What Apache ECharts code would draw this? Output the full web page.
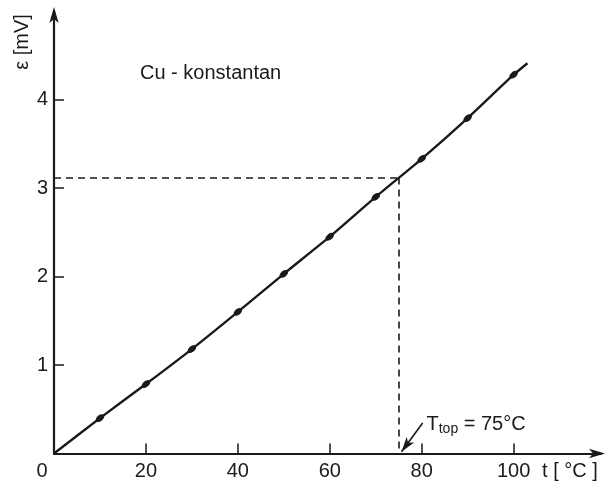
<!DOCTYPE html>
<html>
<head>
<meta charset="utf-8">
<script src="https://cdn.jsdelivr.net/npm/echarts@6/dist/echarts.min.js"></script>
<style>
  html, body { margin: 0; padding: 0; background: #fff; }
  #chart { width: 615px; height: 494px; }
</style>
</head>
<body>
<div id="chart"></div>
<script>
// thermoelektrische Spannung Cu-Konstantan
var temps = [0, 10, 20, 30, 40, 50, 60, 70, 80, 90, 100, 103];
var emf = [0, 0.40, 0.785, 1.18, 1.60, 2.03, 2.45, 2.90, 3.33, 3.79, 4.28, 4.41];
var xTicks = [0, 20, 40, 60, 80, 100];
var yTicks = [1, 2, 3, 4];
var tTop = 75;
var eTop = 3.12;

var ink = '#1a1a1a';
var font = 'Liberation Sans';

var lineData = temps.map(function (t, i) {
  var item = { value: [t, emf[i]] };
  if (i === 0 || i === temps.length - 1) item.symbol = 'none';
  return item;
});

var chart = echarts.init(document.getElementById('chart'));

var option = {
  animation: false,
  grid: { left: 54, right: 14, top: 11, bottom: 40.5 },
  xAxis: {
    type: 'value',
    min: 0,
    max: 119,
    interval: 20,
    splitLine: { show: false },
    axisLine: {
      lineStyle: { color: ink, width: 2.2 },
      symbol: ['none', 'arrow'],
      symbolSize: [7, 16],
      symbolOffset: [0, 4]
    },
    axisTick: { inside: true, length: 10, lineStyle: { color: ink, width: 1.5 }, customValues: xTicks.slice(1) },
    axisLabel: {
      customValues: xTicks,
      margin: 8,
      color: ink,
      fontFamily: font,
      fontSize: 20,
      formatter: function (v) { return v === 0 ? '{z|0}' : String(v); },
      rich: { z: { fontFamily: font, fontSize: 20, color: ink, padding: [0, 24, 0, 0] } }
    }
  },
  yAxis: {
    type: 'value',
    min: 0,
    max: 5,
    interval: 1,
    splitLine: { show: false },
    axisLine: {
      lineStyle: { color: ink, width: 2.2 },
      symbol: ['none', 'arrow'],
      symbolSize: [7, 16],
      symbolOffset: [0, 4]
    },
    axisTick: { inside: true, length: 10, lineStyle: { color: ink, width: 1.5 }, customValues: yTicks },
    axisLabel: {
      customValues: yTicks,
      margin: 6,
      color: ink,
      fontFamily: font,
      fontSize: 20
    }
  },
  series: [
    {
      type: 'line',
      data: lineData,
      smooth: 0.2,
      symbol: 'circle',
      symbolSize: [10, 6],
      symbolRotate: 40,
      itemStyle: { color: ink },
      lineStyle: { color: ink, width: 2.4 },
      markLine: {
        silent: true,
        symbol: ['none', 'none'],
        label: { show: false },
        lineStyle: { color: ink, type: [7, 5], width: 1.6 },
        data: [
          [{ coord: [0, eTop] }, { coord: [tTop, eTop] }],
          [{ coord: [tTop, eTop] }, { coord: [tTop, 0] }],
          [
            { coord: [tTop + 0.6, 0.02], symbol: 'arrow', symbolSize: [7, 15], lineStyle: { type: 'solid', width: 1.6 } },
            { coord: [80.2, 0.345], symbol: 'none' }
          ]
        ]
      },
      markPoint: {
        silent: true,
        symbol: 'circle',
        symbolSize: 0,
        data: [
          {
            coord: [80.6, 0.33],
            label: {
              show: true,
              position: 'right',
              distance: 2,
              formatter: '{t|T}{s|top}{t| = 75°C}',
              rich: {
                t: { fontFamily: font, fontSize: 20, color: ink },
                s: { fontFamily: font, fontSize: 14, color: ink, verticalAlign: 'bottom', padding: [10, 0, 0, 0] }
              }
            }
          }
        ]
      }
    }
  ],
  graphic: [
    {
      type: 'text',
      left: 140,
      top: 63,
      style: { text: 'Cu - konstantan', font: '20px "Liberation Sans"', fill: ink }
    },
    {
      type: 'text',
      x: 22,
      y: 42,
      rotation: Math.PI / 2,
      style: { text: 'ε [mV]', font: '20px "Liberation Sans"', fill: ink, align: 'center', verticalAlign: 'middle' }
    },
    {
      type: 'text',
      x: 570,
      y: 471,
      style: { text: 't [ °C ]', font: '20px "Liberation Sans"', fill: ink, align: 'center', verticalAlign: 'middle' }
    }
  ]
};

chart.setOption(option);
</script>
</body>
</html>
